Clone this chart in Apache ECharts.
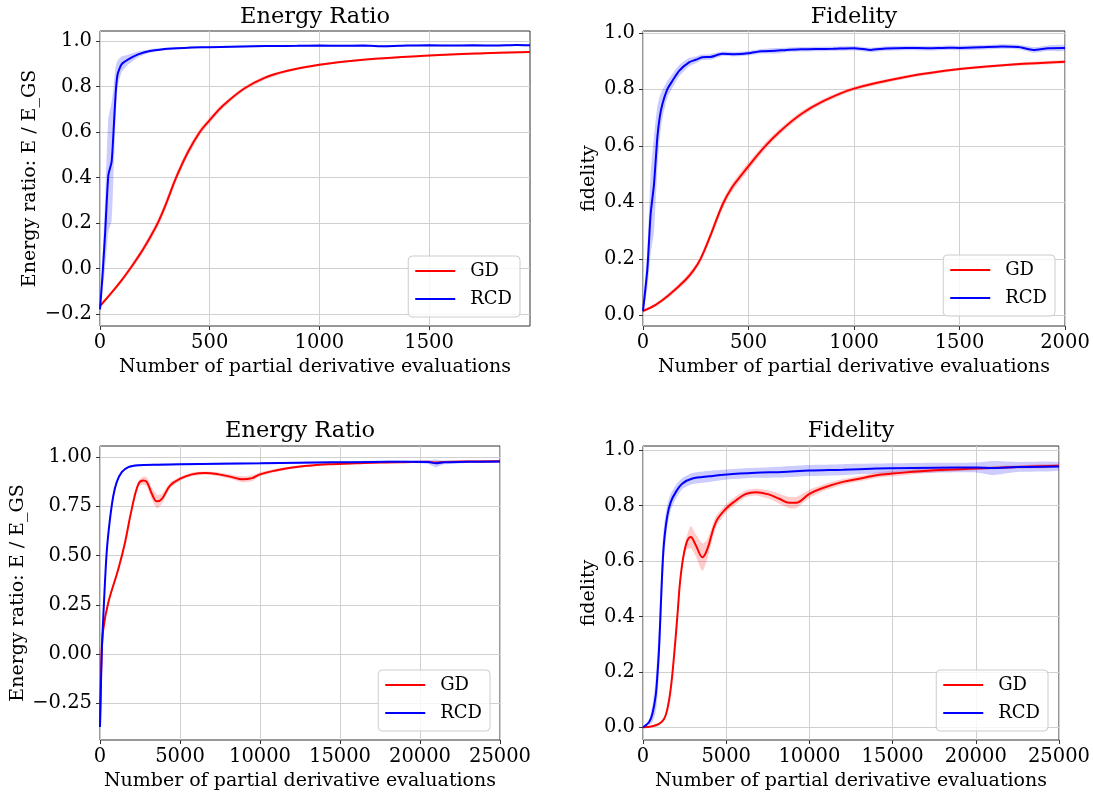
<!DOCTYPE html>
<html><head><meta charset="utf-8">
<script src="https://cdn.jsdelivr.net/npm/echarts@6/dist/echarts.min.js"></script>
<style>html,body{margin:0;padding:0;background:#fff}#c{width:1093px;height:793px}</style>
</head><body><div id="c"></div>
<script>
// ---------- Titles / labels ----------
const titles = ['Energy Ratio', 'Fidelity', 'Energy Ratio', 'Fidelity'];
const yNames = ['Energy ratio: E / E_GS', 'fidelity', 'Energy ratio: E / E_GS', 'fidelity'];
const xName = 'Number of partial derivative evaluations';
const seriesNames = ['GD', 'RCD'];

// ---------- Tick values ----------
const xTicks1 = [0, 500, 1000, 1500];
const yTicks1 = [-0.2, 0, 0.2, 0.4, 0.6, 0.8, 1.0];
const xTicks2 = [0, 500, 1000, 1500, 2000];
const yTicks2 = [0, 0.2, 0.4, 0.6, 0.8, 1.0];
const xTicks3 = [0, 5000, 10000, 15000, 20000, 25000];
const yTicks3 = [-0.25, 0, 0.25, 0.5, 0.75, 1.0];
const xTicks4 = [0, 5000, 10000, 15000, 20000, 25000];
const yTicks4 = [0, 0.2, 0.4, 0.6, 0.8, 1.0];

// ---------- Panel 1: Energy ratio (short run) ----------
const p1GdX = [0, 50, 100, 138, 170, 200, 235, 266, 300, 345, 400, 455, 500, 560, 656, 750, 850, 1000, 1200, 1500, 1750, 1960];
const p1GdY = [-0.165, -0.11, -0.05, 0, 0.045, 0.09, 0.148, 0.205, 0.282, 0.395, 0.51, 0.6, 0.652, 0.715, 0.79, 0.838, 0.868, 0.896, 0.918, 0.936, 0.946, 0.952];
const p1GdBand = [0.006, 0.008, 0.01, 0.012, 0.013, 0.014, 0.016, 0.017, 0.018, 0.018, 0.017, 0.015, 0.013, 0.011, 0.009, 0.008, 0.006, 0.005, 0.004, 0.004, 0.004, 0.004];
const p1RcdX = [0, 10, 23, 38, 53, 61, 71, 80, 98, 129, 174, 227, 280, 350, 417, 500, 600, 700, 800, 900, 1000, 1100, 1200, 1300, 1400, 1500, 1600, 1700, 1800, 1900, 1960];
const p1RcdY = [-0.18, -0.05, 0.148, 0.41, 0.47, 0.59, 0.765, 0.853, 0.897, 0.919, 0.941, 0.956, 0.963, 0.968, 0.971, 0.973, 0.975, 0.977, 0.978, 0.979, 0.98, 0.979, 0.98, 0.977, 0.98, 0.981, 0.98, 0.981, 0.98, 0.982, 0.981];
const p1RcdBand = [0.01, 0.06, 0.15, 0.25, 0.26, 0.2, 0.12, 0.06, 0.035, 0.022, 0.013, 0.008, 0.006, 0.005, 0.004, 0.004, 0.004, 0.004, 0.004, 0.004, 0.004, 0.004, 0.004, 0.004, 0.004, 0.004, 0.004, 0.004, 0.004, 0.004, 0.004];

// ---------- Panel 2: Fidelity (short run) ----------
const p2GdX = [0, 60, 123, 202, 240, 273, 320, 379, 424, 470, 500, 574, 650, 750, 850, 1000, 1250, 1500, 1750, 2000];
const p2GdY = [0.015, 0.037, 0.072, 0.126, 0.16, 0.2, 0.283, 0.395, 0.455, 0.5, 0.528, 0.595, 0.652, 0.713, 0.757, 0.803, 0.845, 0.872, 0.888, 0.898];
const p2GdBand = [0.004, 0.006, 0.008, 0.01, 0.011, 0.012, 0.014, 0.015, 0.015, 0.015, 0.014, 0.012, 0.011, 0.01, 0.008, 0.007, 0.006, 0.005, 0.005, 0.005];
const p2RcdX = [0, 21, 36, 52, 68, 79, 92, 115, 139, 171, 218, 250, 281, 320, 376, 430, 500, 560, 629, 680, 750, 819, 900, 1000, 1080, 1150, 1250, 1350, 1450, 1500, 1600, 1700, 1780, 1850, 1920, 2000];
const p2RcdY = [0.015, 0.167, 0.357, 0.463, 0.63, 0.70, 0.748, 0.80, 0.83, 0.866, 0.896, 0.905, 0.914, 0.915, 0.926, 0.925, 0.928, 0.935, 0.937, 0.94, 0.942, 0.943, 0.944, 0.946, 0.94, 0.945, 0.947, 0.946, 0.948, 0.947, 0.949, 0.952, 0.95, 0.94, 0.946, 0.947];
const p2RcdBand = [0.01, 0.07, 0.14, 0.17, 0.11, 0.075, 0.05, 0.03, 0.025, 0.02, 0.015, 0.012, 0.01, 0.01, 0.008, 0.008, 0.008, 0.008, 0.01, 0.008, 0.008, 0.008, 0.008, 0.008, 0.008, 0.008, 0.008, 0.008, 0.008, 0.008, 0.008, 0.008, 0.008, 0.01, 0.01, 0.01];

// ---------- Panel 3: Energy ratio (long run) ----------
const p3GdX = [0, 100, 209, 523, 1150, 1568, 1986, 2405, 2718, 2928, 3241, 3555, 3868, 4391, 5018, 5750, 6587, 7423, 8260, 8887, 9514, 10000, 10978, 12023, 13696, 14532, 16000, 17500, 19000, 20500, 21000, 21500, 23000, 25000];
const p3GdY = [-0.36, 0.0, 0.128, 0.263, 0.433, 0.568, 0.737, 0.864, 0.881, 0.873, 0.814, 0.775, 0.788, 0.856, 0.89, 0.912, 0.919, 0.912, 0.898, 0.887, 0.893, 0.912, 0.932, 0.947, 0.961, 0.964, 0.968, 0.972, 0.974, 0.976, 0.972, 0.975, 0.977, 0.978];
const p3GdBand = [0.02, 0.02, 0.015, 0.01, 0.01, 0.01, 0.01, 0.015, 0.02, 0.025, 0.03, 0.035, 0.025, 0.015, 0.01, 0.01, 0.008, 0.01, 0.012, 0.015, 0.015, 0.01, 0.008, 0.006, 0.005, 0.005, 0.004, 0.004, 0.004, 0.004, 0.006, 0.004, 0.004, 0.004];
const p3RcdX = [0, 105, 209, 418, 627, 836, 1045, 1359, 1777, 2405, 3659, 5018, 7500, 10000, 12500, 14532, 17000, 19000, 20500, 21000, 21500, 23000, 25000];
const p3RcdY = [-0.37, -0.008, 0.195, 0.517, 0.687, 0.805, 0.873, 0.924, 0.949, 0.958, 0.961, 0.963, 0.966, 0.968, 0.971, 0.973, 0.975, 0.976, 0.975, 0.968, 0.973, 0.976, 0.977];
const p3RcdBand = [0.02, 0.03, 0.03, 0.025, 0.02, 0.015, 0.01, 0.008, 0.006, 0.005, 0.005, 0.005, 0.005, 0.005, 0.005, 0.005, 0.006, 0.006, 0.01, 0.02, 0.01, 0.006, 0.006];

// ---------- Panel 4: Fidelity (long run) ----------
const p4GdX = [0, 562, 964, 1265, 1466, 1667, 1868, 2069, 2269, 2570, 2871, 3173, 3574, 3876, 4378, 4980, 5582, 6184, 6787, 7590, 8192, 8795, 9196, 10000, 10803, 12008, 13213, 14016, 15000, 17500, 20000, 22500, 25000];
const p4GdY = [0, 0.004, 0.012, 0.03, 0.066, 0.139, 0.259, 0.404, 0.548, 0.657, 0.687, 0.657, 0.614, 0.645, 0.741, 0.789, 0.819, 0.843, 0.849, 0.84, 0.825, 0.811, 0.811, 0.843, 0.864, 0.886, 0.9, 0.91, 0.916, 0.928, 0.934, 0.94, 0.944];
const p4GdBand = [0, 0.002, 0.004, 0.006, 0.01, 0.012, 0.015, 0.015, 0.015, 0.02, 0.04, 0.04, 0.05, 0.035, 0.02, 0.015, 0.015, 0.012, 0.012, 0.015, 0.018, 0.02, 0.02, 0.015, 0.012, 0.01, 0.01, 0.01, 0.01, 0.008, 0.006, 0.006, 0.006];
const p4RcdX = [0, 361, 562, 763, 863, 964, 1064, 1165, 1265, 1466, 1667, 1968, 2369, 2972, 3976, 5040, 6787, 8393, 10000, 12008, 14016, 15000, 17500, 20000, 21000, 22500, 25000];
const p4RcdY = [0, 0.018, 0.048, 0.114, 0.187, 0.283, 0.428, 0.572, 0.669, 0.765, 0.813, 0.849, 0.88, 0.898, 0.906, 0.913, 0.919, 0.922, 0.927, 0.93, 0.934, 0.935, 0.937, 0.938, 0.936, 0.94, 0.942];
const p4RcdBand = [0.002, 0.01, 0.03, 0.06, 0.08, 0.09, 0.09, 0.08, 0.06, 0.04, 0.03, 0.025, 0.02, 0.02, 0.02, 0.018, 0.018, 0.02, 0.02, 0.02, 0.018, 0.018, 0.018, 0.018, 0.025, 0.018, 0.015];

// ---------- Layout ----------
const FONT = 'DejaVu Serif';
const RED = '#ff0000', BLUE = '#0000ff';
const RED_BAND = 'rgba(255,0,0,0.2)', BLUE_BAND = 'rgba(0,0,255,0.2)';

const grids = [
  {left: 100, top: 31, width: 430, height: 295},
  {left: 643, top: 31, width: 422, height: 295},
  {left: 100, top: 446, width: 400, height: 294},
  {left: 643, top: 446, width: 416, height: 294}
];
const xRanges = [[0, 1960], [0, 2000], [0, 25000], [0, 25000]];
const yRanges = [[-0.253, 1.044], [-0.038, 1.007], [-0.436, 1.056], [-0.046, 1.0156]];
const xTicks = [xTicks1, xTicks2, xTicks3, xTicks4];
const yTicks = [yTicks1, yTicks2, yTicks3, yTicks4];
const yDec = [1, 1, 2, 1];
const yNameGap = [60, 44, 72, 44];
const legendPos = [
  {right: 573, bottom: 476},
  {right: 38, bottom: 477},
  {right: 603, bottom: 62},
  {right: 45, bottom: 62}
];
const titlePos = [
  {left: 315, top: 4}, {left: 854, top: 4}, {left: 300, top: 418}, {left: 851, top: 418}
];

const fmtNum = (v, d) => Number(v).toFixed(d).replace('-', '\u2212');

const xAxes = [], yAxes = [], legends = [], titleArr = [];
for (let i = 0; i < 4; i++) {
  xAxes.push({
    type: 'value', gridIndex: i, position: 'bottom', min: xRanges[i][0], max: xRanges[i][1],
    name: xName, nameLocation: 'middle', nameGap: 32,
    nameTextStyle: {fontFamily: FONT, fontSize: 19, color: '#000'},
    axisLine: {show: false, onZero: false},
    axisTick: {show: true, length: 4, lineStyle: {color: '#333'}, customValues: xTicks[i]},
    axisLabel: {fontFamily: FONT, fontSize: 19.5, color: '#000', margin: 7, customValues: xTicks[i],
      formatter: v => String(v)},
    splitLine: {show: true, lineStyle: {color: '#d0d0d0', width: 1}}
  });
  const d = yDec[i];
  yAxes.push({
    type: 'value', gridIndex: i, position: 'left', min: yRanges[i][0], max: yRanges[i][1],
    name: yNames[i], nameLocation: 'middle', nameGap: yNameGap[i],
    nameTextStyle: {fontFamily: FONT, fontSize: 19, color: '#000'},
    axisLine: {show: false, onZero: false},
    axisTick: {show: true, length: 4, lineStyle: {color: '#333'}, customValues: yTicks[i]},
    axisLabel: {fontFamily: FONT, fontSize: 19.5, color: '#000', margin: 8, customValues: yTicks[i],
      formatter: v => fmtNum(v, d)},
    splitLine: {show: true, lineStyle: {color: '#d0d0d0', width: 1}}
  });
  legends.push(Object.assign({
    orient: 'vertical', data: seriesNames, icon: 'rect', itemWidth: 40, itemHeight: 2, itemGap: 8,
    padding: [5, 8, 8, 7], backgroundColor: 'rgba(255,255,255,0.8)',
    borderColor: '#cccccc', borderWidth: 1, borderRadius: 4,
    textStyle: {fontFamily: FONT, fontSize: 18, color: '#000', lineHeight: 20, padding: [0, 0, 0, 10]},
    selectedMode: false, z: 10
  }, legendPos[i]));
  titleArr.push(Object.assign({
    text: titles[i], textAlign: 'center', padding: 0,
    textStyle: {fontFamily: FONT, fontSize: 22.5, fontWeight: 'normal', color: '#000', lineHeight: 26}
  }, titlePos[i]));
}

const series = [];
function addCurve(idx, name, xs, ys, hw, color, bandColor, smooth) {
  // confidence band as a polygon, positioned through the axis scales
  series.push({
    type: 'custom', name: name + ' band', xAxisIndex: idx, yAxisIndex: idx, silent: true,
    clip: true, z: 1, animation: false,
    data: [[xs[0], ys[0]]],
    renderItem: function (params, api) {
      const upper = xs.map((x, k) => api.coord([x, ys[k] + hw[k]]));
      const lower = xs.map((x, k) => api.coord([x, ys[k] - hw[k]])).reverse();
      return {type: 'polygon', shape: {points: upper.concat(lower), smooth: 0.2},
        style: {fill: bandColor, stroke: null}};
    }
  });
  series.push({
    type: 'line', name: name, xAxisIndex: idx, yAxisIndex: idx, symbol: 'none', smooth: smooth,
    animation: false,
    data: xs.map((x, k) => [x, ys[k]]),
    lineStyle: {color: color, width: 2}, itemStyle: {color: color}, z: 3
  });
}
addCurve(0, 'GD', p1GdX, p1GdY, p1GdBand, RED, RED_BAND, 0.4);
addCurve(0, 'RCD', p1RcdX, p1RcdY, p1RcdBand, BLUE, BLUE_BAND, 0.2);
addCurve(1, 'GD', p2GdX, p2GdY, p2GdBand, RED, RED_BAND, 0.4);
addCurve(1, 'RCD', p2RcdX, p2RcdY, p2RcdBand, BLUE, BLUE_BAND, 0.2);
addCurve(2, 'GD', p3GdX, p3GdY, p3GdBand, RED, RED_BAND, 0.4);
addCurve(2, 'RCD', p3RcdX, p3RcdY, p3RcdBand, BLUE, BLUE_BAND, 0.3);
addCurve(3, 'GD', p4GdX, p4GdY, p4GdBand, RED, RED_BAND, 0.4);
addCurve(3, 'RCD', p4RcdX, p4RcdY, p4RcdBand, BLUE, BLUE_BAND, 0.3);

const chart = echarts.init(document.getElementById('c'), null, {renderer: 'canvas'});
chart.setOption({
  backgroundColor: '#ffffff',
  animation: false,
  title: titleArr,
  legend: legends,
  grid: grids.map(g => Object.assign({show: true, borderColor: '#333', borderWidth: 1, backgroundColor: 'transparent', containLabel: false}, g)),
  xAxis: xAxes,
  yAxis: yAxes,
  series: series
});
</script>
</body></html>
